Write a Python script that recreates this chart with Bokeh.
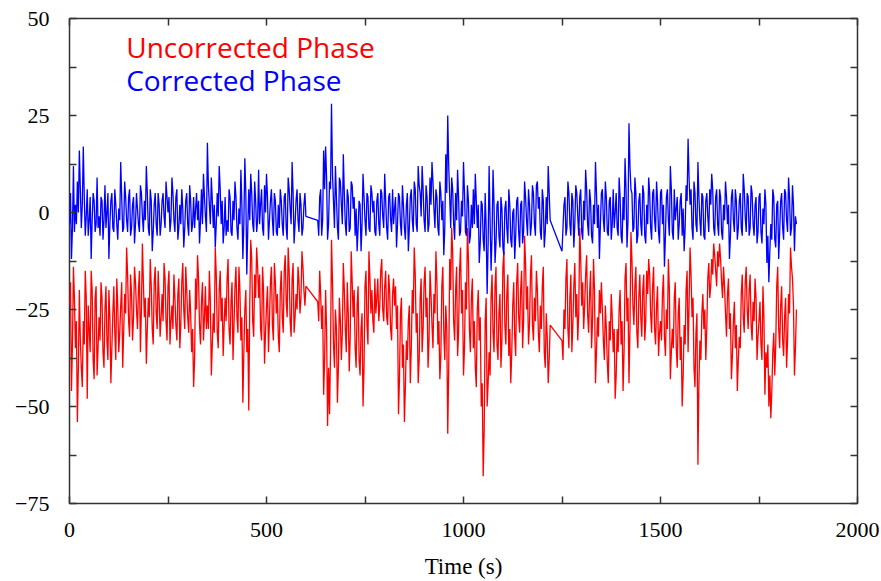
from bokeh.plotting import figure
from bokeh.models import Range1d, FixedTicker, CustomJSTickFormatter, LinearAxis, Label
from bokeh.embed import file_html
from bokeh.resources import INLINE

# ---- data ----
# samples on a 5 s grid per segment, plus the in-between samples (t + 2.5 s)
t_seg1 = list(range(0, 601, 5))
t_seg2 = list(range(630, 1221, 5))
t_seg3 = list(range(1250, 1846, 5))

corrected_seg1 = [
    -3, -12, 12, 2, 8, 16, -4, 17, -6, 6,
    -2, -12, 5, -5, 9, -1, 4, -7, 7, 0,
    -12, 3, -4, 6, -3, 1, 13, -5, 8, -2,
    4, -6, 2, -8, 5, -3, 7, -1, 3, 12,
    -4, 6, -10, 2, -3, 5, -6, 3, -1, 8,
    0, -5, 9, -2, 4, -7, 2, 6, -9, 3,
    -3, 7, -5, 4, 1, -2, -8, 6, 10, -1,
    18, 2, 9, -4, -9, 5, 12, -3, -8, 4,
    -2, 6, -5, 3, 8, -4, 1, 11, -12, 14,
    -16, 6, 10, -3, 8, -5, 11, 2, -4, 7,
    10, -7, 3, -2, 5, -5, 2, 6, -3, 4,
    -4, 9, 1, 13, -8, 3, -2, 5, -6, 2,
    -1,
]
corrected_mid1 = [
    5, -4, -5, -3, 0, 6, 2, 4, -1, -6,
    4, -2, 3, -3, -4, -6, 3, -2, -4, 5,
    -3, 5, -5, 2, -7, -2, 4, -4, 4, -5,
    6, -4, 4, -3, 1, -5, 5, -5, -2, 5,
    -6, 3, -5, 5, -6, 2, -3, 5, -4, 4,
    4, -2, 5, -5, 6, -4, -3, 1, -4, 5,
    -6, 3, -3, -4, 5, 3, -2, -3, 4, -5,
    7, -3, 3, 2, -3, -1, 6, 3, -4, -6,
    -5, 4, -6, -2, 4, -7, -3, 2, -3, 5,
    -4, -2, 5, -5, 3, -2, -3, 6, -6, 0,
    4, -2, 6, -6, 3, -6, -4, 3, -6, 5,
    -7, 6, -3, 5, -3, 6, -5, 2, -4, 5,
]
corrected_seg2 = [
    -2, 4, -6, 16, 17, -7, 8, 28, 3, 12,
    -4, 9, 2, 15, -3, 6, -5, 8, 1, -6,
    -10, 3, -10, 10, -2, 5, -4, 7, 0, -5,
    3, -3, 6, -1, 10, -4, 4, -2, 6, 1,
    -9, 5, -3, 7, -4, 2, -10, 4, -2, 8,
    -3, 12, 5, 12, -2, 7, -5, 9, 13, 1,
    6, -4, 8, -2, -11, 15, 25, 4, 9, -3,
    5, 11, -6, 3, 13, -5, 7, -8, 2, 6,
    10, -4, -13, 3, -7, 5, -21, 12, -15, 11,
    -13, 2, -6, 4, -9, 1, -4, 6, -7, 0,
    -12, 3, -5, 2, -8, 8, -2, 6, -6, 7,
    -3, 7, 1, -5, 6, -9, 4, 12, -2,
]
corrected_mid2 = [
    -6, 6, -2, 6, 9, -3, 6, 10, -4, 4,
    -7, 8, -3, 5, -6, 4, -4, 7, 4, 1,
    -4, 2, -3, 4, -6, 4, -5, 5, 3, -6,
    5, -6, 5, -4, 3, -7, 5, -5, -3, 4,
    -3, 4, -6, 2, -7, 5, -4, 6, -5, 6,
    -5, 7, -1, 6, -5, 4, -3, 2, 8, -4,
    4, -6, 5, 3, -4, 5, 12, -4, 6, -7,
    -2, 4, -5, -1, 5, -6, 3, -6, -4, -3,
    3, 2, -8, 2, -10, -4, -8, -2, -6, 2,
    -8, 3, -9, 1, -11, 3, -8, 2, -9, 1,
    -6, 4, -9, 3, -5, 4, -6, 2, -3, 5,
    -6, 8, 4, -7, 3, -5, -3, 5,
]
corrected_seg3 = [
    -10, 2, -6, 8, -3, 5, -9, 7, -1, 4,
    -5, 3, 11, -3, 6, -6, 2, 13, -4, -12,
    5, -2, 8, -5, 3, -7, 6, 0, -4, 9,
    -6, 4, 14, -9, 23, 6, -5, 9, -8, 3,
    -3, 7, -6, 2, 9, -4, 5, -2, 8, -5,
    5, -3, -14, 4, -2, 12, -5, 6, 1, -7,
    3, -6, -10, 7, 19, 2, -4, 8, -3, 13,
    -2, 5, -6, 3, -1, 6, 10, -4, 4, -3,
    6, -5, 2, 8, -3, -12, 4, -2, 6, -7,
    3, -4, 10, -1, 5, -6, 7, -3, 2, -8,
    4, -5, 1, 6, -13, -18, -3, 6, -7, 2,
    -12, 3, -4, 6, -2, 9, -6, 7, -10, -3,
]
corrected_mid3 = [
    -4, 4, -4, 5, -6, 3, -3, 5, -6, 6,
    -7, -2, 6, -6, 3, -8, -3, 5, 2, -3,
    6, -5, 4, -6, 4, -3, -4, 5, -6, 4,
    -8, -2, 6, -2, 12, 5, -4, 5, -6, 5,
    -6, 5, -8, -3, 5, -7, 6, -5, 3, -8,
    6, 2, -6, 6, -6, 6, -7, -2, 4, -3,
    5, 1, -4, 3, 9, 6, -7, 5, -5, 4,
    -6, 4, -7, 5, -5, 2, 6, -6, 6, -6,
    4, -7, -2, 4, 2, -6, 6, -5, 3, -4,
    5, -6, 6, -5, 4, -4, 5, -6, 4, -5,
    5, -8, -3, 2, -6, -10, -7, 4, -9, 3,
    -5, 5, -7, 5, -5, 4, -4, 2, -1,
]

uncorrected_seg1 = [
    -24, -46, -14, -35, -54, -20, -40, -28, -15, -48,
    -30, -15, -38, -22, -42, -27, -18, -36, -25, -33,
    -20, -44, -26, -31, -17, -36, -24, -40, -21, -9,
    -28, -16, -33, -14, -25, -20, -36, -8, -27, -39,
    -22, -12, -30, -18, -26, -15, -32, -21, -13, -28,
    -19, -34, -24, -16, -29, -21, -35, -18, -25, -14,
    -27, -20, -36, -45, -17, -11, -29, -23, -33, -19,
    -24, -15, -42, -26, -9, -31, -20, -28, -37, -22,
    -17, -30, -23, -38, -19, -27, -14, -33, -49, -25,
    -36, -51, -7, -28, -16, -9, -22, -30, -14, -39,
    -24, -36, -18, -29, -13, -26, -32, -20, -27, -15,
    -23, -9, -28, -17, -31, -21, -14, -26, -10, -20,
    -19,
]
uncorrected_mid1 = [
    -18, -34, -22, -28, -40, -33, -45, -34, -22, -24,
    -36, -20, -43, -19, -35, -33, -22, -40, -19, -38,
    -27, -35, -19, -38, -24, -31, -18, -31, -26, -16,
    -32, -21, -27, -18, -30, -15, -25, -18, -22, -30,
    -27, -19, -34, -14, -30, -22, -27, -28, -17, -33,
    -15, -28, -30, -22, -33, -17, -29, -13, -30, -20,
    -31, -26, -30, -38, -25, -17, -34, -18, -27, -30,
    -30, -23, -34, -31, -16, -35, -15, -22, -29, -28,
    -12, -34, -18, -29, -14, -31, -20, -27, -36, -20,
    -30, -24, -12, -32, -22, -14, -16, -33, -20, -31,
    -19, -28, -14, -33, -18, -21, -36, -15, -31, -11,
    -27, -15, -32, -13, -27, -25, -18, -22, -14, -24,
]
uncorrected_seg2 = [
    -23, -15, -30, -47, -20, -55, -52, -7, -34, -25,
    -49, -22, -38, -13, -30, -18, -41, -10, -27, -35,
    -24, -38, -30, -50, -19, -29, -10, -26, -28, -17,
    -22, -28, -15, -25, -19, -27, -16, -30, -21, -24,
    -30, -52, -26, -40, -54, -33, -28, -44, -20, -9,
    -31, -44, -22, -36, -18, -27, -40, -15, -29, -21,
    -10, -34, -43, -19, -31, -24, -57, -12, -4, -28,
    -20, -37, -15, -26, -42, -18, -4, -30, -22, -35,
    -40, -25, -33, -50, -68, -28, -50, -36, -22, -31,
    -19, -34, -26, -40, -14, -29, -21, -37, -44, -24,
    -32, -18, -27, -20, -35, -6, -25, -34, -16, -29,
    -22, -15, -31, -24, -19, -36, -26, -44, -29,
]
uncorrected_mid2 = [
    -28, -21, -24, -38, -30, -40, -36, -18, -40, -30,
    -40, -28, -31, -20, -36, -26, -32, -18, -20, -40,
    -19, -42, -26, -40, -15, -34, -17, -20, -31, -26,
    -17, -24, -12, -28, -15, -29, -20, -33, -17, -19,
    -24, -43, -22, -34, -45, -38, -24, -35, -26, -16,
    -26, -38, -17, -30, -14, -22, -33, -21, -35, -26,
    -18, -28, -37, -14, -38, -30, -40, -20, -10, -33,
    -14, -31, -9, -20, -35, -25, -12, -36, -17, -28,
    -45, -20, -27, -44, -56, -22, -44, -42, -16, -36,
    -14, -38, -21, -33, -10, -34, -16, -30, -36, -18,
    -37, -13, -31, -15, -28, -13, -19, -29, -11, -33,
    -28, -20, -36, -30, -14, -40, -32, -38,
]
uncorrected_seg3 = [
    -33, -25, -17, -30, -22, -36, -19, -27, -33, -4,
    -24, -30, -16, -26, -21, -35, -12, -44, -27, -20,
    -18, -33, -24, -39, -28, -21, -36, -48, -30, -25,
    -34, -46, -17, -28, -44, -5, -24, -19, -31, -22,
    -27, -20, -33, -15, -12, -26, -19, -30, -24, -37,
    -28, -21, -32, -25, -12, -43, -30, -22, -35, -26,
    -38, -50, -29, -20, -36, -9, -27, -40, -31, -65,
    -33, -26, -30, -38, -17, -22, -12, -8, -15, -10,
    -8, -18, -14, -26, -21, -30, -43, -28, -35, -46,
    -32, -21, -27, -18, -25, -20, -29, -23, -17, -38,
    -28, -34, -19, -47, -40, -50, -53, -36, -42, -19,
    -30, -24, -33, -27, -40, -21, -9, -17, -42, -25,
]
uncorrected_mid3 = [
    -38, -30, -12, -35, -16, -29, -13, -21, -26, -12,
    -18, -24, -11, -31, -15, -28, -20, -36, -32, -26,
    -25, -38, -30, -44, -33, -27, -30, -42, -36, -20,
    -28, -36, -13, -22, -30, -12, -29, -14, -35, -16,
    -32, -16, -28, -21, -16, -31, -14, -34, -19, -31,
    -33, -16, -37, -30, -20, -36, -35, -18, -40, -22,
    -32, -42, -34, -15, -24, -16, -22, -45, -26, -44,
    -38, -21, -25, -30, -13, -19, -16, -11, -19, -14,
    -12, -22, -19, -32, -17, -26, -37, -23, -29, -38,
    -35, -16, -31, -14, -30, -16, -33, -28, -22, -32,
    -23, -38, -27, -36, -34, -42, -46, -31, -34, -14,
    -35, -19, -37, -22, -33, -26, -14, -24, -35,
]

series_names = ["Uncorrected Phase", "Corrected Phase"]
x_labeled = [0, 500, 1000, 1500, 2000]
x_minor = [250, 750, 1250, 1750]
y_labeled = [-75, -50, -25, 0, 25, 50]
y_minor = [-62.5, -37.5, -12.5, 12.5, 37.5]


def weave(grid, mid):
    """Merge grid samples with the in-between samples (one fewer)."""
    assert len(mid) == len(grid) - 1, (len(grid), len(mid))
    out = []
    for i, v in enumerate(grid):
        out.append(v)
        if i < len(mid):
            out.append(mid[i])
    return out


def weave_time(ts):
    out = []
    for i, t in enumerate(ts):
        out.append(t)
        if i < len(ts) - 1:
            out.append(t + 2.5)
    return out


time, corrected, uncorrected = [], [], []
for ts, cg, cm, ug, um in [
    (t_seg1, corrected_seg1, corrected_mid1, uncorrected_seg1, uncorrected_mid1),
    (t_seg2, corrected_seg2, corrected_mid2, uncorrected_seg2, uncorrected_mid2),
    (t_seg3, corrected_seg3, corrected_mid3, uncorrected_seg3, uncorrected_mid3),
]:
    assert len(ts) == len(cg) == len(ug)
    time += weave_time(ts)
    corrected += weave(cg, cm)
    uncorrected += weave(ug, um)

# ---- figure ----
p = figure(width=881, height=581, output_backend="svg", toolbar_location=None,
           x_range=Range1d(0, 2000), y_range=Range1d(-75, 50),
           min_border_left=69, min_border_right=24, min_border_top=18, min_border_bottom=77)
p.grid.visible = False
p.outline_line_color = "#333333"
p.outline_line_width = 1.5
p.background_fill_color = "white"
p.border_fill_color = "white"

p.line(time, uncorrected, line_color="#ff0000", line_width=1.3)
p.line(time, corrected, line_color="#0000ff", line_width=1.3)

fmt = CustomJSTickFormatter(code="""
    return tick < 0 ? '\u2212' + Math.abs(tick) : '' + tick;
""")

TICK_COLOR = "#333333"


def style_ticks(ax):
    ax.axis_line_color = None
    for kind in ("major", "minor"):
        setattr(ax, kind + "_tick_in", 7)
        setattr(ax, kind + "_tick_out", 0)
        setattr(ax, kind + "_tick_line_color", TICK_COLOR)
        setattr(ax, kind + "_tick_line_width", 1.5)
    ax.major_label_text_font = "Liberation Serif"
    ax.major_label_text_color = "black"
    ax.major_label_text_font_size = "22px"


xa = p.xaxis[0]
xa.ticker = FixedTicker(ticks=x_labeled, minor_ticks=x_minor)
xa.formatter = fmt
style_ticks(xa)
xa.major_label_standoff = 19
xa.axis_label = "Time (s)"
xa.axis_label_text_font = "Liberation Serif"
xa.axis_label_text_font_style = "normal"
xa.axis_label_text_font_size = "23px"
xa.axis_label_text_color = "black"
xa.axis_label_standoff = 14

ya = p.yaxis[0]
ya.ticker = FixedTicker(ticks=y_labeled, minor_ticks=y_minor)
ya.formatter = fmt
style_ticks(ya)
ya.major_label_standoff = 20

# mirrored ticks on the top and right edges (no labels)
top = LinearAxis(ticker=FixedTicker(ticks=[], minor_ticks=x_labeled + x_minor))
style_ticks(top)
p.add_layout(top, "above")
right = LinearAxis(ticker=FixedTicker(ticks=[], minor_ticks=y_labeled + y_minor))
style_ticks(right)
p.add_layout(right, "right")

p.add_layout(Label(x=144, y=42.7, text=series_names[0], text_color="#ff0000",
                   text_font="Open Sans", text_font_size="28px", text_baseline="alphabetic"))
p.add_layout(Label(x=144, y=34.2, text=series_names[1], text_color="#0000ff",
                   text_font="Open Sans", text_font_size="28px", text_baseline="alphabetic"))

open("out.html", "w").write(file_html(p, INLINE))
